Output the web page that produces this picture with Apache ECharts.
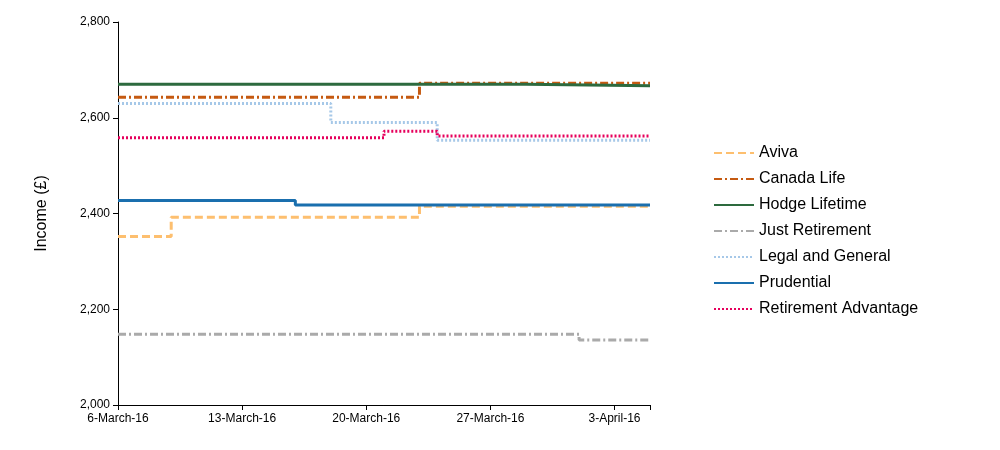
<!DOCTYPE html>
<html><head><meta charset="utf-8">
<script src="https://cdn.jsdelivr.net/npm/echarts@6/dist/echarts.min.js"></script>
<style>html,body{margin:0;padding:0;background:#fff}#c{width:1000px;height:450px}</style>
</head><body><div id="c"></div>
<script>
// x = days since 6-March-16
const tickLabels = ['6-March-16','13-March-16','20-March-16','27-March-16','3-April-16'];
const seriesNames = ['Aviva','Canada Life','Hodge Lifetime','Just Retirement','Legal and General','Prudential','Retirement Advantage'];
const aviva = [[0,2352],[3,2392],[17,2415],[30,2415]];
const canadaLife = [[0,2643],[17,2672],[30,2672]];
const hodge = [[0,2670],[23,2667],[30,2667]];
const justRet = [[0,2148],[26,2136],[30,2136]];
const legalGeneral = [[0,2630],[12,2590],[18,2553],[30,2553]];
const prudential = [[0,2427],[10,2418],[30,2418]];
const retAdv = [[0,2558],[15,2572],[18,2562],[30,2562]];
const dataSets = [aviva,canadaLife,hodge,justRet,legalGeneral,prudential,retAdv];
const colors = ['#fdbf6f','#c55a11','#2d6a3e','#aaaaaa','#a6c8e8','#1a6fae','#e6005c'];
const dashes = [[8,4],[8,3,2,3],'solid',[8,3,2,3],[2,2],'solid',[2,2]];
const chart = echarts.init(document.getElementById('c'));
chart.setOption({
  animation:false,
  textStyle:{fontFamily:'Liberation Sans, Arial'},
  grid:{left:118,right:350,top:22,bottom:45},
  legend:{orient:'vertical',left:708,top:140,itemGap:10,itemWidth:40,itemHeight:14,
    itemStyle:{opacity:0},
    textStyle:{fontSize:16,color:'#000'},data:seriesNames},
  xAxis:{type:'value',min:0,max:30,interval:7,
    axisLine:{lineStyle:{color:'#000'}},axisTick:{lineStyle:{color:'#000'}},
    splitLine:{show:false},
    axisLabel:{color:'#000',fontSize:12,formatter:v=>tickLabels[v/7]||''}},
  yAxis:{type:'value',min:2000,max:2800,interval:200,name:'Income (£)',nameLocation:'middle',nameGap:68,
    nameTextStyle:{fontSize:16,color:'#000'},
    axisLine:{show:true,lineStyle:{color:'#000'}},axisTick:{show:true,lineStyle:{color:'#000'}},
    splitLine:{show:false},
    axisLabel:{color:'#000',fontSize:12,formatter:v=>v.toLocaleString('en-US')}},
  series:seriesNames.map((n,i)=>({name:n,type:'line',step:'end',symbol:'none',data:dataSets[i],
    color:colors[i],lineStyle:{width:3,type:dashes[i],color:colors[i]}}))
});
</script></body></html>
